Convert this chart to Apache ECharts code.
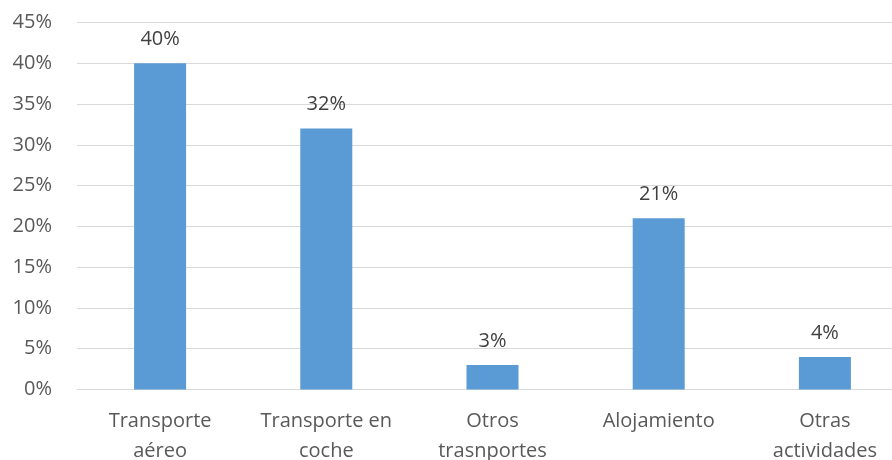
<!DOCTYPE html>
<html><head><meta charset="utf-8">
<script src="https://cdn.jsdelivr.net/npm/echarts@6/dist/echarts.min.js"></script>
<style>html,body{margin:0;padding:0;background:#fff;overflow:hidden}#c{width:892px;height:460px}</style>
</head><body><div id="c"></div>
<script>
const categories = ["Transporte\naéreo", "Transporte en\ncoche", "Otros\ntrasnportes", "Alojamiento", "Otras\nactividades"];
const values = [40, 32, 3, 21, 4];
const yTicks = [0, 5, 10, 15, 20, 25, 30, 35, 40, 45];

const font = '"Open Sans", "Noto Sans", sans-serif';
const chart = echarts.init(document.getElementById('c'), null, {renderer: 'canvas'});
chart.setOption({
  animation: false,
  grid: {left: 77, top: 22.5, width: 831, height: 367, containLabel: false, outerBoundsMode: 'none'},
  xAxis: {
    type: 'category', data: categories,
    axisLine: {show: true, lineStyle: {color: '#d9d9d9', width: 1}},
    axisTick: {show: false},
    axisLabel: {color: '#595959', fontFamily: font, fontSize: 20, lineHeight: 30, margin: 17, interval: 0}
  },
  yAxis: {
    type: 'value', min: yTicks[0], max: yTicks[yTicks.length - 1], interval: 5,
    axisLine: {show: false}, axisTick: {show: false},
    splitLine: {lineStyle: {color: '#d9d9d9', width: 1}},
    axisLabel: {color: '#595959', fontFamily: font, fontSize: 20, margin: 25, formatter: v => v + '%'}
  },
  series: [{
    type: 'bar', data: values, barWidth: 52,
    itemStyle: {color: '#5b9bd5'},
    label: {show: true, position: 'top', distance: 14, color: '#404040', fontFamily: font, fontSize: 20, formatter: p => p.value + '%'}
  }]
});
</script></body></html>
